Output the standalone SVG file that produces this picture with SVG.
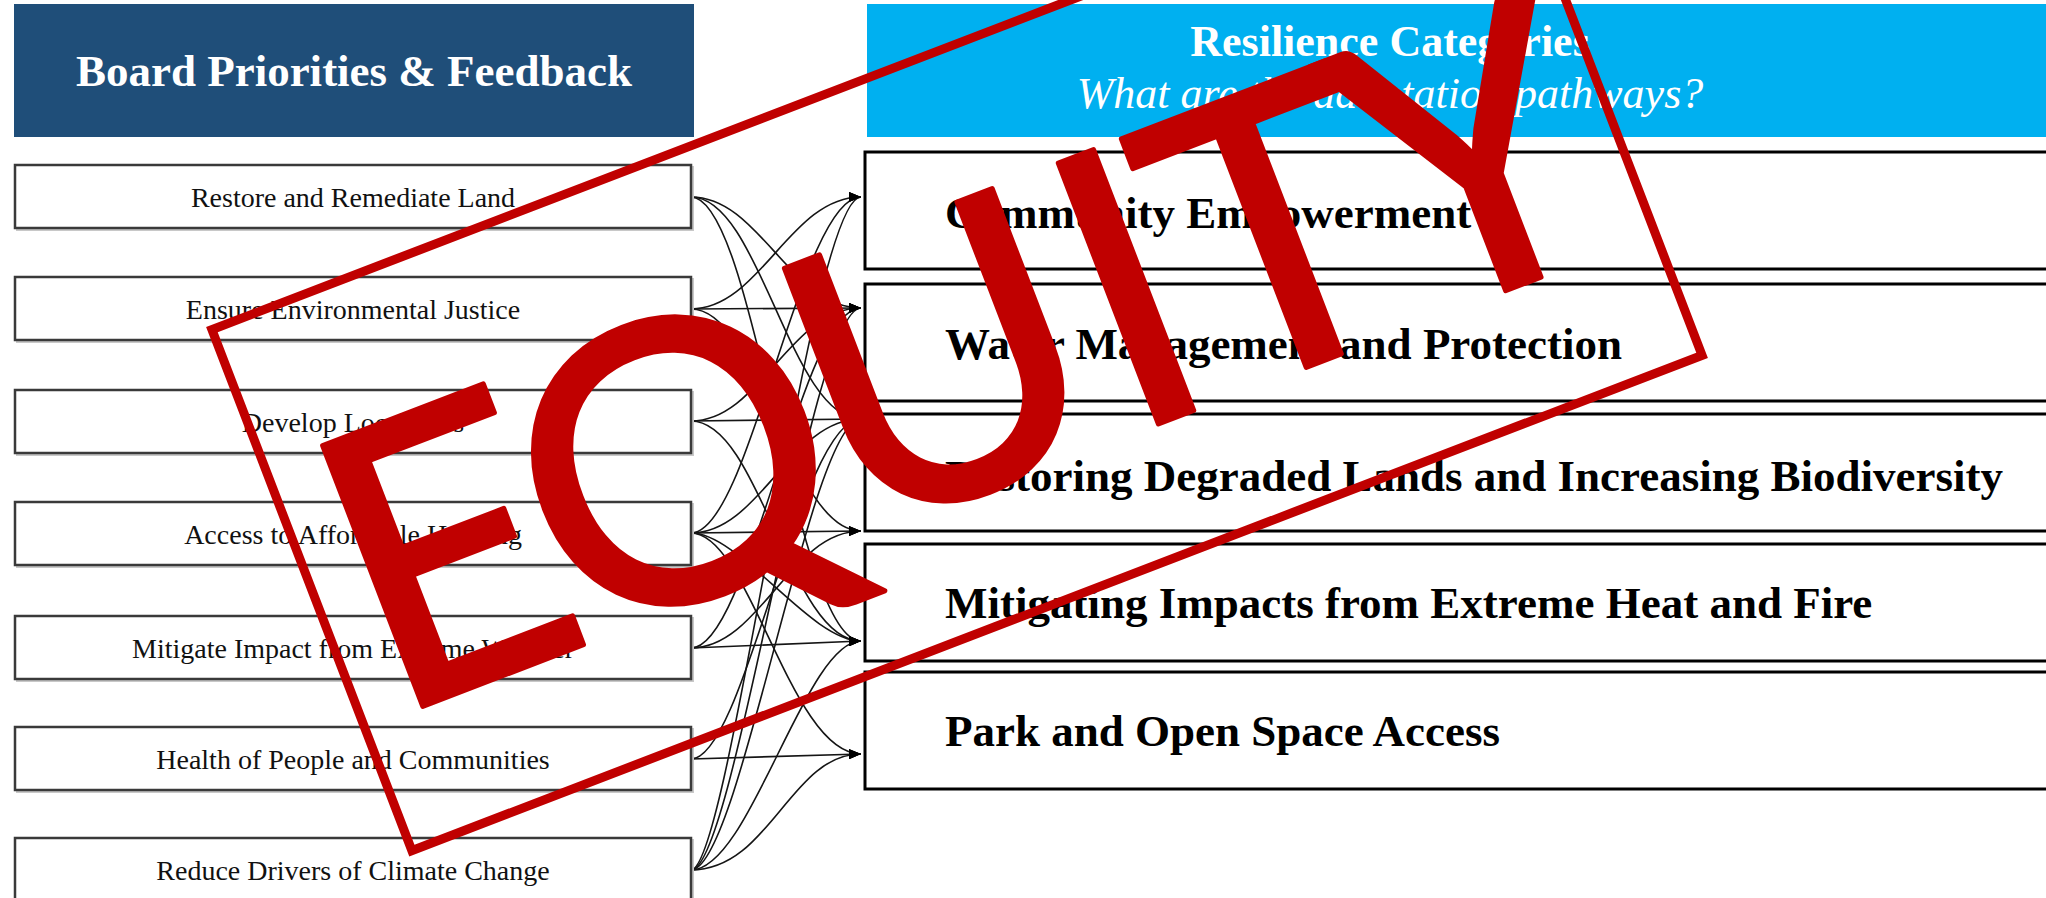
<svg xmlns="http://www.w3.org/2000/svg" width="2046" height="898" viewBox="0 0 2046 898">
  <style>
    .lbox rect { fill: #ffffff; stroke: #3a3a3a; stroke-width: 2.5; }
    .lbox .sh { fill: none; stroke: #c8c8c8; stroke-width: 2; }
    .lbox text { font-family: "Liberation Serif", "Times New Roman", serif; font-size: 28px; fill: #111111; text-anchor: middle; }
    .rbox rect { fill: #ffffff; stroke: #000000; stroke-width: 3; }
    .rbox text { font-family: "Liberation Serif", "Times New Roman", serif; font-size: 45px; font-weight: bold; fill: #000000; }
    .conn path { fill: none; stroke: #151515; stroke-width: 1.6; marker-end: url(#arr); }
    .hdr { font-family: "Liberation Serif", "Times New Roman", serif; fill: #ffffff; text-anchor: middle; }
  </style>
  <defs>
    <marker id="arr" viewBox="0 0 12 10" refX="12" refY="5" markerWidth="12" markerHeight="10" markerUnits="userSpaceOnUse" orient="auto">
      <path d="M0,0 L12,5 L0,10 z" fill="#000000"/>
    </marker>
  </defs>
  <rect width="2046" height="898" fill="#ffffff"/>

  <g id="header-left">
    <rect x="14" y="4" width="680" height="133" fill="#1F4E79"/>
    <text class="hdr" x="354" y="86" font-size="45" font-weight="bold">Board Priorities &amp; Feedback</text>
  </g>
  <g id="header-right">
    <rect x="867" y="4" width="1190" height="133" fill="#00B0F0"/>
    <text class="hdr" x="1390" y="56" font-size="44" font-weight="bold">Resilience Categories</text>
    <text class="hdr" x="1390" y="108" font-size="44" font-style="italic">What are the adaptation pathways?</text>
  </g>

  <g id="connectors" class="conn">
    <path d="M691,197 C760,197 790,308 861,308"/>
    <path d="M691,197 C760,197 790,419 861,419"/>
    <path d="M691,197 C755,197 795,641 861,641"/>
    <path d="M691,309 C760,309 790,197 861,197"/>
    <path d="M691,309 L861,308"/>
    <path d="M691,309 C760,309 790,531 861,531"/>
    <path d="M691,421 C760,421 790,308 861,308"/>
    <path d="M691,421 L861,419"/>
    <path d="M691,421 C760,421 790,641 861,641"/>
    <path d="M691,533 C750,533 800,197 861,197"/>
    <path d="M691,533 C760,533 790,419 861,419"/>
    <path d="M691,533 L861,531"/>
    <path d="M691,533 C740,533 810,641 861,641"/>
    <path d="M691,533 C750,533 790,754 861,754"/>
    <path d="M691,648 C750,648 800,308 861,308"/>
    <path d="M691,648 C760,648 790,531 861,531"/>
    <path d="M691,648 L861,641"/>
    <path d="M691,759 C745,759 800,419 861,419"/>
    <path d="M691,759 L861,754"/>
    <path d="M691,870 C730,870 810,197 861,197"/>
    <path d="M691,870 C735,870 810,308 861,308"/>
    <path d="M691,870 C740,870 810,419 861,419"/>
    <path d="M691,870 C750,870 805,641 861,641"/>
    <path d="M691,870 C770,870 790,754 861,754"/>
  </g>

  <g id="p1" class="lbox"><rect class="sh" x="17" y="167" width="676" height="63"/><rect x="15" y="165" width="676" height="63"/><text x="353" y="207">Restore and Remediate Land</text></g>
  <g id="p2" class="lbox"><rect class="sh" x="17" y="279" width="676" height="63"/><rect x="15" y="277" width="676" height="63"/><text x="353" y="319">Ensure Environmental Justice</text></g>
  <g id="p3" class="lbox"><rect class="sh" x="17" y="392" width="676" height="63"/><rect x="15" y="390" width="676" height="63"/><text x="353" y="432">Develop Local Jobs</text></g>
  <g id="p4" class="lbox"><rect class="sh" x="17" y="504" width="676" height="63"/><rect x="15" y="502" width="676" height="63"/><text x="353" y="544">Access to Affordable Housing</text></g>
  <g id="p5" class="lbox"><rect class="sh" x="17" y="618" width="676" height="63"/><rect x="15" y="616" width="676" height="63"/><text x="353" y="658">Mitigate Impact from Extreme Weather</text></g>
  <g id="p6" class="lbox"><rect class="sh" x="17" y="729" width="676" height="63"/><rect x="15" y="727" width="676" height="63"/><text x="353" y="769">Health of People and Communities</text></g>
  <g id="p7" class="lbox"><rect class="sh" x="17" y="840" width="676" height="63"/><rect x="15" y="838" width="676" height="63"/><text x="353" y="880">Reduce Drivers of Climate Change</text></g>

  <g id="c1" class="rbox"><rect x="865" y="152" width="1190" height="117"/><text x="945" y="228">Community Empowerment</text></g>
  <g id="c2" class="rbox"><rect x="865" y="284" width="1190" height="117"/><text x="945" y="359">Water Management and Protection</text></g>
  <g id="c3" class="rbox"><rect x="865" y="414" width="1190" height="117"/><text x="945" y="491">Restoring Degraded Lands and Increasing Biodiversity</text></g>
  <g id="c4" class="rbox"><rect x="865" y="544" width="1190" height="117"/><text x="945" y="618">Mitigating Impacts from Extreme Heat and Fire</text></g>
  <g id="c5" class="rbox"><rect x="865" y="672" width="1190" height="117"/><text x="945" y="746">Park and Open Space Access</text></g>

  <g id="stamp">
    <rect x="-691" y="-279" width="1382" height="558" transform="translate(957,342.5) rotate(-21)" fill="none" stroke="#C00000" stroke-width="9"/>
    <g transform="translate(390,719) rotate(-21)">
      <text x="112 357 641 842 1000 1214" y="0" font-family="Lato, 'Open Sans', 'Liberation Sans', sans-serif" font-size="390" fill="#C00000" stroke="#C00000" stroke-width="5" stroke-linejoin="round" text-anchor="middle">EQUITY</text>
    </g>
  </g>
</svg>
